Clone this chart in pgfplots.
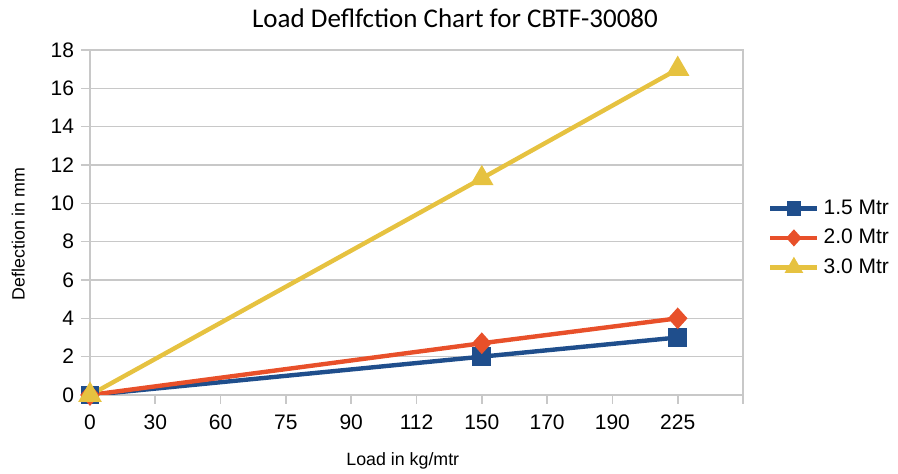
\documentclass[border=0pt]{standalone}
\usepackage{fontspec}
\setmainfont{Liberation Sans}
\newfontfamily\titlefont{Carlito}
\usepackage{pgfplots}
\pgfplotsset{compat=1.18}

\definecolor{sBlue}{HTML}{1F4E8C}
\definecolor{sRed}{HTML}{E8502A}
\definecolor{sYellow}{HTML}{E6C240}
\definecolor{gridGray}{HTML}{C8C8C8}

\begin{document}
\begin{tikzpicture}
\begin{axis}[
    scale only axis,
    width=326.5pt, height=172.5pt,
    xmin=0, xmax=10,
    ymin=0, ymax=18,
    xtick={0,1,2,3,4,5,6,7,8,9,10},
    xticklabels={0,30,60,75,90,112,150,170,190,225,{}},
    ytick={0,2,4,6,8,10,12,14,16,18},
    xtick pos=lower, ytick pos=left,
    tick align=outside,
    major tick length=4.5pt,
    tick style={gridGray, line width=0.8pt},
    axis line style={gridGray, line width=0.8pt},
    ymajorgrids=true,
    grid style={gridGray, line width=0.8pt},
    ticklabel style={font=\fontsize{10.5}{12}\selectfont},
    /pgf/number format/assume math mode=true,
    xticklabel style={yshift=-2pt},
    title={Load Deflfction Chart for CBTF-30080},
    title style={font=\titlefont\fontsize{13.5}{15}\selectfont,
        at={(rel axis cs:0.559,1)}, anchor=center, yshift=10pt},
    xlabel={Load in kg/mtr},
    xlabel style={font=\fontsize{8.9}{10}\selectfont,
        at={(rel axis cs:0.479,0)}, anchor=center, yshift=-33pt},
    ylabel={Deflection in mm},
    ylabel style={font=\fontsize{8.9}{10}\selectfont,
        at={(rel axis cs:-0.110,0.467)}, anchor=center},
    legend style={at={(rel axis cs:1.038,0.455)}, anchor=west, draw=none,
        fill=none, font=\fontsize{10.5}{12}\selectfont,
        row sep=2pt, inner sep=0pt},
    legend cell align=left,
    legend image code/.code={\draw[mark repeat=2,mark phase=2,#1,
        every mark/.append style={scale=0.7}]
        plot coordinates {(0pt,0pt)(11.75pt,0pt)(23.5pt,0pt)};},
]
\addplot[sBlue, line width=2.2pt, mark=square*, mark size=3.6pt,
    mark options={solid}] coordinates {(0,0)(6,2.0)(9,3.0)};
\addplot[sRed, line width=2.2pt, mark=diamond*, mark size=3.8pt,
    mark options={solid, xscale=1.2}] coordinates {(0,0)(6,2.7)(9,4.0)};
\addplot[sYellow, line width=2.2pt, mark=triangle*, mark size=4.6pt,
    mark options={solid}] coordinates {(0,0)(6,11.3)(9,17.0)};
\legend{1.5 Mtr, 2.0 Mtr, 3.0 Mtr}
\end{axis}
\pgfresetboundingbox
\useasboundingbox (-45pt,-39.5pt) rectangle (404pt,197.5pt);
\end{tikzpicture}
\end{document}
